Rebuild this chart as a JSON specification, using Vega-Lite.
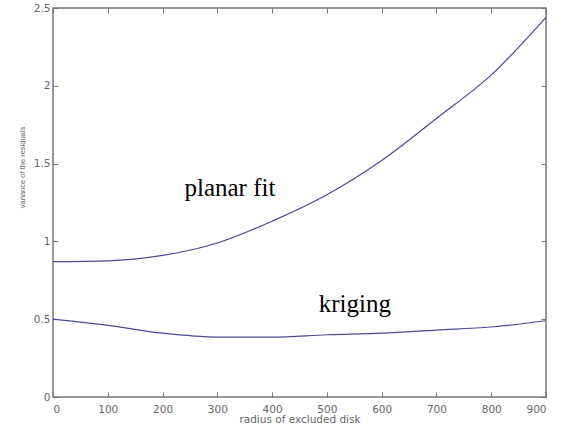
{
  "$schema": "https://vega.github.io/schema/vega-lite/v6.json",
  "width": 493,
  "height": 389,
  "autosize": "none",
  "padding": {"left": 53, "top": 8, "right": 18, "bottom": 34},
  "background": "white",
  "config": {
    "view": {"stroke": "#777", "strokeWidth": 1.5},
    "axis": {
      "domain": false,
      "grid": false,
      "tickSize": -5,
      "tickColor": "#777",
      "labelFont": "DejaVu Sans",
      "labelFontSize": 10.5,
      "labelColor": "#666",
      "labelPadding": 8,
      "titleFont": "DejaVu Sans",
      "titleFontSize": 10.5,
      "titleFontWeight": "normal",
      "titleColor": "#666"
    }
  },
  "datasets": {
    "curves": [
      {"r": 0, "v": 0.87, "s": "planar fit"},
      {"r": 100, "v": 0.875, "s": "planar fit"},
      {"r": 200, "v": 0.91, "s": "planar fit"},
      {"r": 300, "v": 0.99, "s": "planar fit"},
      {"r": 400, "v": 1.13, "s": "planar fit"},
      {"r": 500, "v": 1.30, "s": "planar fit"},
      {"r": 600, "v": 1.52, "s": "planar fit"},
      {"r": 700, "v": 1.79, "s": "planar fit"},
      {"r": 800, "v": 2.07, "s": "planar fit"},
      {"r": 900, "v": 2.44, "s": "planar fit"},
      {"r": 0, "v": 0.50, "s": "kriging"},
      {"r": 100, "v": 0.46, "s": "kriging"},
      {"r": 200, "v": 0.41, "s": "kriging"},
      {"r": 300, "v": 0.385, "s": "kriging"},
      {"r": 400, "v": 0.385, "s": "kriging"},
      {"r": 500, "v": 0.40, "s": "kriging"},
      {"r": 600, "v": 0.41, "s": "kriging"},
      {"r": 700, "v": 0.43, "s": "kriging"},
      {"r": 800, "v": 0.45, "s": "kriging"},
      {"r": 900, "v": 0.49, "s": "kriging"}
    ],
    "labels": [
      {"r": 323, "v": 1.34, "t": "planar fit"},
      {"r": 551, "v": 0.60, "t": "kriging"}
    ]
  },
  "resolve": {"axis": {"x": "independent", "y": "independent"}},
  "layer": [
    {
      "data": {"name": "curves"},
      "mark": {"type": "line", "color": "#4a4a96", "strokeWidth": 1.2, "interpolate": "monotone"},
      "encoding": {
        "x": {"field": "r", "type": "quantitative", "scale": {"domain": [0, 900], "nice": false},
              "axis": {"orient": "bottom", "values": [0,100,200,300,400,500,600,700,800,900], "labelPadding": 12, "title": "radius of excluded disk", "titlePadding": 0}},
        "y": {"field": "v", "type": "quantitative", "scale": {"domain": [0, 2.5], "nice": false},
              "axis": {"orient": "left", "values": [0,0.5,1,1.5,2,2.5], "format": "~g", "title": "variance of the residuals", "titleFont": "Liberation Sans", "titleFontSize": 7.5, "titleX": -27, "titleY": 159}},
        "detail": {"field": "s"}
      }
    },
    {
      "data": {"name": "labels"},
      "mark": {"type": "text", "font": "Liberation Serif", "fontSize": 25, "color": "black"},
      "encoding": {
        "x": {"field": "r", "type": "quantitative", "axis": {"orient": "top", "labels": false, "title": null, "values": [0,100,200,300,400,500,600,700,800,900]}},
        "y": {"field": "v", "type": "quantitative", "axis": {"orient": "right", "labels": false, "title": null, "values": [0,0.5,1,1.5,2,2.5]}},
        "text": {"field": "t"}
      }
    }
  ]
}
